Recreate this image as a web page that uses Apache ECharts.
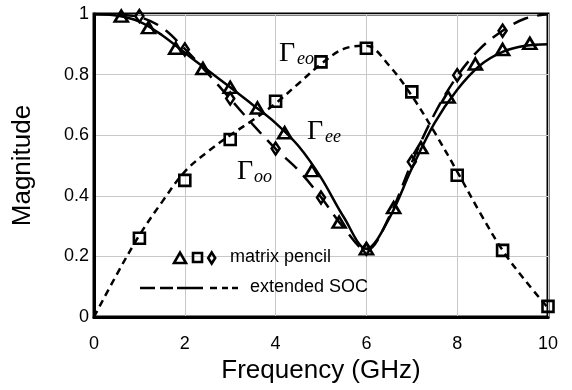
<!DOCTYPE html>
<html>
<head>
<meta charset="utf-8">
<script src="https://cdn.jsdelivr.net/npm/echarts@6/dist/echarts.min.js"></script>
<style>html,body{margin:0;padding:0;background:#fff}#c{width:572px;height:390px}</style>
</head>
<body>
<div id="c"></div>
<script>
// Curve sample frequencies (GHz)
var lineFreq = [0,0.5,1,1.5,2,2.5,3,3.5,4,4.5,5,5.5,6,6.5,7,7.5,8,8.5,9,9.5,10];
// extended SOC curves
var eeLine = [1.0,0.995,0.975,0.93,0.872,0.815,0.758,0.70,0.64,0.565,0.46,0.33,0.225,0.325,0.49,0.64,0.75,0.83,0.875,0.895,0.90];
var ooLine = [1.0,0.998,0.99,0.955,0.885,0.805,0.72,0.635,0.555,0.485,0.395,0.295,0.22,0.33,0.51,0.67,0.795,0.885,0.945,0.985,1.0];
var eoLine = [0,0.14,0.27,0.38,0.48,0.545,0.60,0.65,0.705,0.77,0.835,0.885,0.895,0.83,0.73,0.61,0.48,0.345,0.22,0.12,0.03];
// matrix pencil points
var triFreq = [0.6,1.2,1.8,2.4,3.0,3.6,4.2,4.8,5.4,6.0,6.6,7.2,7.8,8.4,9.0,9.6];
var triVals = [0.993,0.955,0.887,0.82,0.758,0.69,0.608,0.483,0.313,0.225,0.361,0.559,0.726,0.835,0.883,0.903];
var sqFreq = [1,2,3,4,5,6,7,8,9,10];
var sqVals = [0.26,0.451,0.586,0.712,0.842,0.887,0.743,0.468,0.22,0.035];
var diaFreq = [1,2,3,4,5,6,7,8,9];
var diaVals = [0.993,0.883,0.721,0.556,0.394,0.225,0.512,0.798,0.945];
var xTicks = [0,2,4,6,8,10];
var yTicks = [0,0.2,0.4,0.6,0.8,1];

function pairs(xs, ys){ return xs.map(function(x,i){ return [x, ys[i]]; }); }

var chart = echarts.init(document.getElementById('c'), null, {renderer:'canvas'});
var font = 'Arial, "Liberation Sans", sans-serif';
var serif = '"Liberation Serif", "Times New Roman", serif';
var mk = {color:'transparent', borderColor:'#000', borderWidth:2.6, opacity:1};

chart.setOption({
  animation:false,
  backgroundColor:'#fff',
  grid:{left:94,right:24,top:14,bottom:73,show:true,borderColor:'#000',borderWidth:3,backgroundColor:'transparent'},
  xAxis:{type:'value',min:0,max:10,interval:2,
    name:'Frequency (GHz)',nameLocation:'middle',nameGap:37,
    nameTextStyle:{fontFamily:font,fontSize:26,color:'#000'},
    axisLine:{show:true,lineStyle:{color:'#000',width:3}},
    axisTick:{show:false},
    axisLabel:{fontFamily:font,fontSize:18,color:'#000',margin:18,
      formatter:function(v){return xTicks.indexOf(v)>=0?String(v):'';}},
    splitLine:{show:true,lineStyle:{color:'#c8c8c8',width:1}}},
  yAxis:{type:'value',min:0,max:1,interval:0.2,
    name:'Magnitude',nameLocation:'middle',nameGap:58,nameRotate:90,
    nameTextStyle:{fontFamily:font,fontSize:26,color:'#000'},
    axisLine:{show:true,lineStyle:{color:'#000',width:3}},
    axisTick:{show:false},
    axisLabel:{fontFamily:font,fontSize:18,color:'#000',margin:5,
      formatter:function(v){var r=Math.round(v*10)/10;return yTicks.indexOf(r)>=0?String(r):'';}},
    splitLine:{show:true,lineStyle:{color:'#c8c8c8',width:1}}},
  series:[
    {name:'ee SOC',type:'line',data:pairs(lineFreq,eeLine),smooth:0.35,showSymbol:false,
      lineStyle:{color:'#000',width:2.5},z:3},
    {name:'oo SOC',type:'line',data:pairs(lineFreq,ooLine),smooth:0.35,showSymbol:false,
      lineStyle:{color:'#000',width:2.5,type:[16,9]},z:3},
    {name:'eo SOC',type:'line',data:pairs(lineFreq,eoLine),smooth:0.35,showSymbol:false,
      lineStyle:{color:'#000',width:2.5,type:[7,5]},z:3},
    {name:'ee MP',type:'scatter',data:pairs(triFreq,triVals),symbol:'triangle',symbolSize:[13,11],itemStyle:mk,z:4},
    {name:'eo MP',type:'scatter',data:pairs(sqFreq,sqVals),symbol:'rect',symbolSize:11,itemStyle:mk,z:4},
    {name:'oo MP',type:'scatter',data:pairs(diaFreq,diaVals),symbol:'diamond',symbolSize:[8,12],itemStyle:mk,z:4}
  ],
  graphic:[
    {type:'text',left:279,top:40,style:{text:'Γ',font:'28px '+serif,fill:'#000'},z:10},
    {type:'text',left:297,top:50,style:{text:'eo',font:'italic 18px '+serif,fill:'#000'},z:10},
    {type:'text',left:307,top:118,style:{text:'Γ',font:'28px '+serif,fill:'#000'},z:10},
    {type:'text',left:325,top:128,style:{text:'ee',font:'italic 18px '+serif,fill:'#000'},z:10},
    {type:'text',left:237,top:158,style:{text:'Γ',font:'28px '+serif,fill:'#000'},z:10},
    {type:'text',left:254,top:168,style:{text:'oo',font:'italic 18px '+serif,fill:'#000'},z:10},
    // legend row 1
    {type:'polygon',shape:{points:[[174,263],[186,263],[180,252.5]]},style:{fill:'none',stroke:'#000',lineWidth:2.6},z:10},
    {type:'rect',shape:{x:193,y:253,width:9,height:9},style:{fill:'none',stroke:'#000',lineWidth:2.6},z:10},
    {type:'polygon',shape:{points:[[211.7,252.5],[215.2,258],[211.7,263.5],[208.2,258]]},style:{fill:'none',stroke:'#000',lineWidth:2.6},z:10},
    {type:'text',left:230,top:248,style:{text:'matrix pencil',font:'18px '+font,fill:'#000'},z:10},
    // legend row 2
    {type:'line',shape:{x1:140,y1:288,x2:155,y2:288},style:{stroke:'#000',lineWidth:2.5},z:10},
    {type:'line',shape:{x1:160,y1:288,x2:173,y2:288},style:{stroke:'#000',lineWidth:2.5},z:10},
    {type:'line',shape:{x1:177,y1:288,x2:203,y2:288},style:{stroke:'#000',lineWidth:2.5},z:10},
    {type:'line',shape:{x1:210,y1:288,x2:217,y2:288},style:{stroke:'#000',lineWidth:2.5},z:10},
    {type:'line',shape:{x1:222,y1:288,x2:228,y2:288},style:{stroke:'#000',lineWidth:2.5},z:10},
    {type:'line',shape:{x1:232,y1:288,x2:238,y2:288},style:{stroke:'#000',lineWidth:2.5},z:10},
    {type:'text',left:250,top:278,style:{text:'extended SOC',font:'18px '+font,fill:'#000'},z:10}
  ]
});
</script>
</body>
</html>
